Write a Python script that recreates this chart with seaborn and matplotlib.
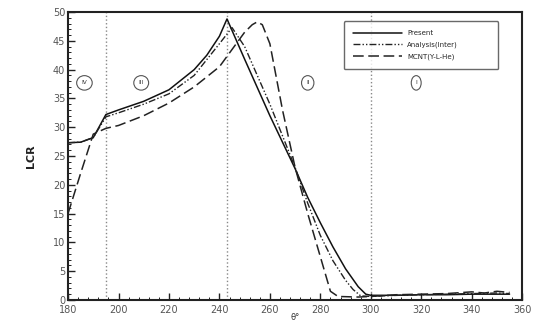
import matplotlib
matplotlib.use("Agg")
import matplotlib.pyplot as plt
from matplotlib.ticker import MultipleLocator
import seaborn as sns
import pandas as pd

# Present model
present_x = [180, 185, 190, 195, 200, 210, 220, 230, 235, 240, 243, 250, 260, 270,
             275, 280, 285, 290, 295, 298, 300, 310, 320, 330, 340, 350, 355]
present_y = [27.3, 27.4, 28.2, 32.2, 33.0, 34.5, 36.5, 40.0, 42.5, 45.8, 48.8, 41.8,
             32.0, 22.8, 17.8, 13.4, 9.2, 5.4, 2.3, 1.0, 0.8, 0.8, 0.9, 0.9, 1.0, 1.0, 1.0]

# Analysis (Inter)
analysis_x = [180, 185, 190, 195, 200, 210, 220, 230, 240, 245, 250, 255, 260, 265,
              270, 275, 280, 285, 290, 293, 296, 300, 310, 320, 330, 340, 350, 355]
analysis_y = [27.3, 27.4, 28.2, 31.8, 32.5, 34.0, 35.8, 39.0, 44.5, 47.3, 44.0, 39.0,
              34.0, 28.5, 23.0, 16.8, 11.2, 6.8, 3.4, 1.8, 0.7, 0.6, 0.8, 0.9, 1.0,
              1.1, 1.2, 1.1]

# MCNT (Y-L-He)
mcnt_x = [180, 185, 190, 195, 200, 210, 220, 230, 240, 245, 250, 253, 255, 257, 260,
          265, 270, 275, 280, 284, 287, 295, 300, 310, 320, 330, 340, 345, 350, 355]
mcnt_y = [15.0, 22.0, 28.8, 29.8, 30.3, 32.0, 34.2, 37.0, 40.5, 43.5, 46.5, 47.8,
          48.3, 47.8, 44.5, 33.0, 23.0, 15.0, 7.5, 1.5, 0.6, 0.5, 0.6, 0.9, 1.0, 1.1,
          1.4, 1.2, 1.5, 1.3]

series_names = ["Present", "Analysis(Inter)", "MCNT(Y-L-He)"]
region_bounds = [195, 243, 300]
region_labels = ["IV", "III", "II", "I"]
region_label_x = [186.5, 209, 275, 318]
region_label_y = 37.7

sns.set_style("ticks")
plt.rcParams["font.family"] = ["DejaVu Sans"]

fig = plt.figure(figsize=(5.4, 3.26), dpi=100)
ax = fig.add_axes([0.126, 0.08, 0.841, 0.883])

styles = [
    dict(color="#111111", linestyle="-", linewidth=1.1),
    dict(color="#222222", linestyle=(0, (5, 1.5, 1, 1.5, 1, 1.5)), linewidth=1.0),
    dict(color="#222222", linestyle=(0, (7, 3)), linewidth=1.1),
]
for name, xs, ys, st in zip(series_names,
                            [present_x, analysis_x, mcnt_x],
                            [present_y, analysis_y, mcnt_y], styles):
    df = pd.DataFrame({"theta": xs, "LCR": ys})
    sns.lineplot(data=df, x="theta", y="LCR", ax=ax, label=name, **st)

for xb in region_bounds:
    ax.axvline(xb, color="#888888", linestyle=":", linewidth=1.0, zorder=0)

for lbl, lx in zip(region_labels, region_label_x):
    ax.text(lx, region_label_y, lbl, fontsize=4.2, ha="center", va="center",
            color="#333333",
            bbox=dict(boxstyle="ellipse,pad=0.45", fc="white", ec="#555555", lw=0.8))

ax.set_xlim(180, 360)
ax.set_ylim(0, 50)
ax.xaxis.set_major_locator(MultipleLocator(20))
ax.xaxis.set_minor_locator(MultipleLocator(4))
ax.yaxis.set_major_locator(MultipleLocator(5))
ax.yaxis.set_minor_locator(MultipleLocator(1))
ax.tick_params(which="both", direction="in", top=False, right=False,
               labelsize=7, colors="#222222")
ax.tick_params(axis="x", pad=3.5)
ax.tick_params(axis="y", pad=2)
ax.tick_params(which="major", length=5, width=1.0)
ax.tick_params(which="minor", length=2.5, width=0.7)
for t in ax.get_xticklabels() + ax.get_yticklabels():
    t.set_color("#555555")
for sp in ax.spines.values():
    sp.set_linewidth(1.5)
    sp.set_color("#222222")

ax.set_xlabel("θ°", fontsize=6, labelpad=-1, color="#333333")
ax.set_ylabel("LCR", fontsize=8, fontweight="bold", labelpad=12, color="#222222")

leg = ax.legend(loc="upper left", bbox_to_anchor=(0.60, 0.79, 0.355, 0.19),
                mode="expand", fontsize=5, frameon=True, handlelength=7,
                borderpad=1.3, labelspacing=0.8, fancybox=True)
leg.get_frame().set_edgecolor("#444444")
leg.get_frame().set_linewidth(1.0)

fig.savefig("out.png", dpi=100)
